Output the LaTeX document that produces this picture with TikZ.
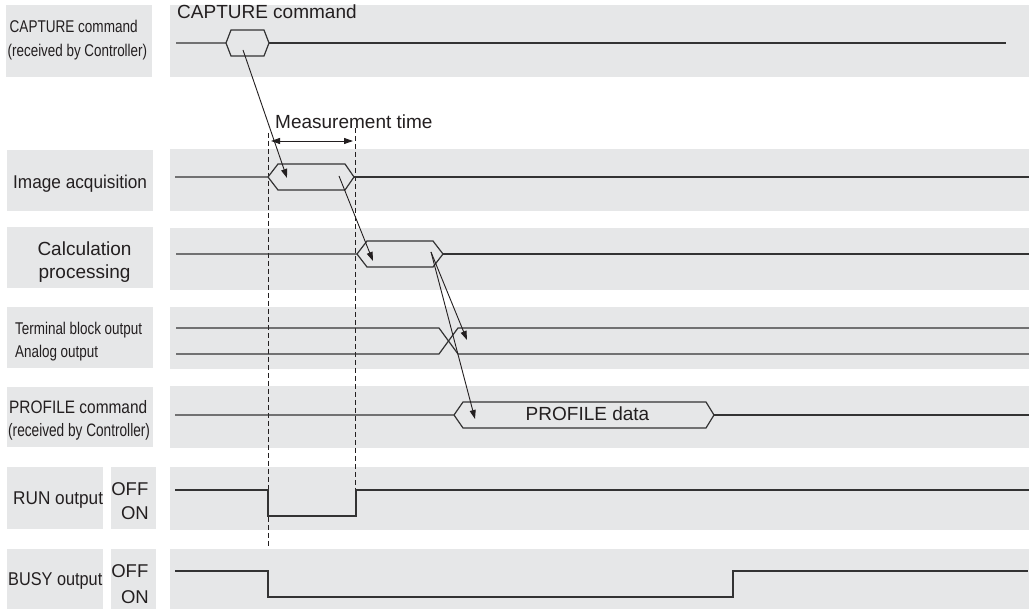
\documentclass[tikz,border=0pt]{standalone}
\usepackage{fontspec}
\usepackage{graphicx}
\setmainfont{Liberation Sans}
\usetikzlibrary{arrows.meta}
\definecolor{band}{HTML}{E6E7E8}
\definecolor{ink}{HTML}{231F20}
\definecolor{wire}{HTML}{333333}
\newcommand{\hsc}[2]{\scalebox{#1}[1]{#2}}
\newcommand{\fs}[1]{\fontsize{#1}{#1}\selectfont}
\begin{document}
\begin{tikzpicture}[x=1pt,y=-1pt,
  bandbox/.style={fill=band,draw=none},
  lbl/.style={inner sep=0pt,text=ink,anchor=base west},
  lblc/.style={inner sep=0pt,text=ink,anchor=base},
  lble/.style={inner sep=0pt,text=ink,anchor=base east},
  sig/.style={draw=wire,line width=1.2pt,line join=miter},
  conn/.style={draw=ink,line width=0.9pt,-{Triangle[length=9pt,width=6pt]}},
  dim/.style={draw=ink,line width=0.9pt,{Triangle[length=9pt,width=6pt]}-{Triangle[length=9pt,width=6pt]}},
  guide/.style={draw=ink,line width=0.9pt,dash pattern=on 5pt off 3pt}]
\useasboundingbox (0,0) rectangle (1029,609);
\fill[white] (0,0) rectangle (1029,609);
% label boxes
\fill[bandbox] (6,5) rectangle (152,77);
\fill[bandbox] (7,150) rectangle (153,211);
\fill[bandbox] (7,227) rectangle (153,288);
\fill[bandbox] (7,307) rectangle (153,368);
\fill[bandbox] (7,387) rectangle (153,447);
\fill[bandbox] (7,467) rectangle (103,529);
\fill[bandbox] (111,467) rectangle (156,529);
\fill[bandbox] (7,549) rectangle (103,609);
\fill[bandbox] (111,549) rectangle (156,609);
% signal bands
\fill[bandbox] (170,5) rectangle (1029,77);
\fill[bandbox] (170,149) rectangle (1029,211);
\fill[bandbox] (170,228) rectangle (1029,290);
\fill[bandbox] (170,307) rectangle (1029,369);
\fill[bandbox] (170,386) rectangle (1029,448);
\fill[bandbox] (170,467) rectangle (1029,530);
\fill[bandbox] (170,549) rectangle (1029,609);
% labels
\node[lbl] (l1a) at (9.5,33) {\fs{17}\hsc{0.797}{CAPTURE command}};
\node[lbl] (l1b) at (7.5,56.5) {\fs{17}\hsc{0.789}{(received by Controller)}};
\node[lbl] (l2) at (13,189) {\fs{18.5}\hsc{0.93}{Image acquisition}};
\node[lblc] (l3a) at (84.5,256) {\fs{19}Calculation};
\node[lblc] (l3b) at (84.5,278.5) {\fs{19}processing};
\node[lbl] (l4a) at (15,335) {\fs{17}\hsc{0.79}{Terminal block output}};
\node[lbl] (l4b) at (15,357.5) {\fs{17}\hsc{0.79}{Analog output}};
\node[lbl] (l5a) at (9,414) {\fs{18}\hsc{0.857}{PROFILE command}};
\node[lbl] (l5b) at (8,437) {\fs{18}\hsc{0.758}{(received by Controller)}};
\node[lbl] (l6) at (13,505) {\fs{18.5}\hsc{0.93}{RUN output}};
\node[lble] (l6off) at (148.5,496) {\fs{18.5}OFF};
\node[lble] (l6on) at (149,520) {\fs{18.5}ON};
\node[lbl] (l7) at (8,585) {\fs{18.5}\hsc{0.88}{BUSY output}};
\node[lble] (l7off) at (148.5,578) {\fs{18.5}OFF};
\node[lble] (l7on) at (149,603) {\fs{18.5}ON};
% in-band texts
\node[lbl] (tcap) at (177,19) {\fs{19}CAPTURE command};
\node[lbl] (tmeas) at (275,128.5) {\fs{19}Measurement time};
\node[lblc] (tprof) at (587.5,421) {\fs{19}PROFILE data};
% dashed guides
\coordinate (gLt) at (268,133); \coordinate (gLb) at (268,548);
\coordinate (gRt) at (355,128); \coordinate (gRb) at (355,490);
\draw[guide] (gLt) -- (gLb);
\draw[guide] (gRt) -- (gRb);
% signals
\draw[sig] (176,43) -- (226,43) -- (231,30) -- (264,30) -- (269,43) -- (264,56) -- (231,56) -- (226,43);
\draw[sig] (269,43) -- (1006,43);
\draw[sig] (175,177) -- (268,177) -- (278,164) -- (345,164) -- (354,177) -- (345,190) -- (278,190) -- (268,177);
\draw[sig] (354,177) -- (1029,177);
\draw[sig] (176,254) -- (357,254) -- (367,241) -- (433,241) -- (443,254) -- (433,267) -- (367,267) -- (357,254);
\draw[sig] (443,254) -- (1029,254);
\draw[sig] (176,328) -- (439,328) -- (458,354) -- (1029,354);
\draw[sig] (176,354) -- (439,354) -- (458,328) -- (1029,328);
\draw[sig] (175,415) -- (454,415) -- (463,402) -- (706,402) -- (714,415) -- (706,428) -- (463,428) -- (454,415);
\draw[sig] (714,415) -- (1029,415);
\draw[sig] (175,490) -- (268,490) -- (268,516) -- (356,516) -- (356,490) -- (1029,490);
\draw[sig] (175,571) -- (268,571) -- (268,597) -- (733,597) -- (733,571) -- (1028,571);
% causal arrows
\coordinate (a1s) at (243,50); \coordinate (a1e) at (287,178);
\coordinate (a2s) at (339,176); \coordinate (a2e) at (373,261);
\coordinate (a3s) at (431,252); \coordinate (a3e) at (467,340);
\coordinate (a4e) at (475,419);
\draw[conn] (a1s) -- (a1e);
\draw[conn] (a2s) -- (a2e);
\draw[conn] (a3s) -- (a3e);
\draw[conn] (a3s) -- (a4e);
% measurement time
\coordinate (m1) at (271,141); \coordinate (m2) at (353,141);
\draw[dim] (m1) -- (m2);
\end{tikzpicture}
\end{document}
